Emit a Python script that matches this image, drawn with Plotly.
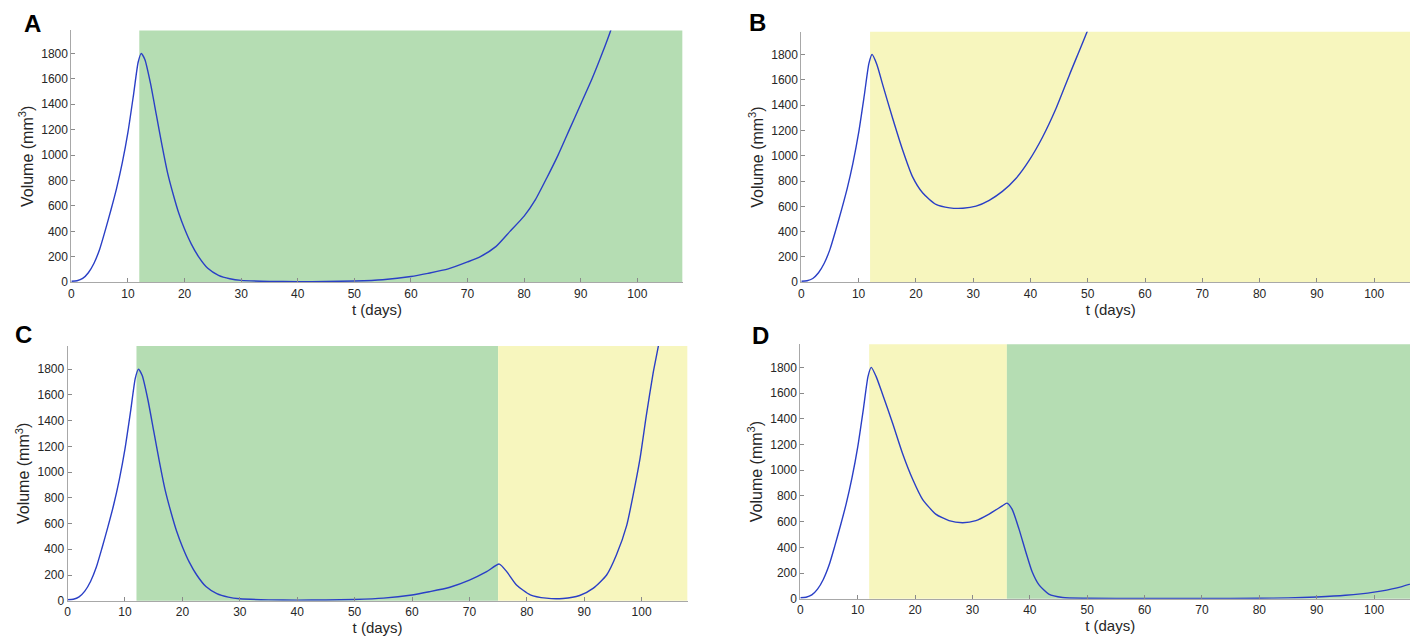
import plotly.graph_objects as go
from plotly.subplots import make_subplots

W, H = 1418, 640

# growth phase before any treatment (same in all four panels)
t_rise = [0, 1, 2, 3, 4, 5, 6, 7, 8, 9, 10, 11, 11.8, 12.35]
v_rise = [8, 12, 30, 75, 150, 260, 410, 570, 740, 940, 1180, 1480, 1730, 1800]

# A - treatment (green) from day 12
t_a = [13.0, 14.0, 15.0, 16.0, 17.0, 18.0, 19.0, 20.0, 21.2, 22.5, 24.1, 26, 28, 30, 35, 40, 45, 50,
       55, 60, 63, 66.6, 70, 72.2, 75, 77.5, 80, 82, 84, 86, 88, 90, 92, 93.8, 95.3, 96.5]
v_a = [1750, 1560, 1320, 1080, 860, 690, 540, 420, 300, 200, 110, 55, 28, 15, 7, 5, 6, 10,
       20, 45, 70, 105, 160, 200, 280, 400, 520, 650, 820, 1000, 1200, 1400, 1600, 1800, 1980, 2150]

# B - other treatment (yellow) from day 12
t_b = [13.2, 14.2, 15.9, 17.7, 19.4, 21.2, 23.5, 25.9, 28.2, 30.5, 32.8, 35.1, 37.5, 39.8, 42.1,
       44.4, 46.8, 49.9, 50.5]
v_b = [1720, 1562, 1302, 1043, 835, 705, 615, 588, 585, 602, 648, 718, 822, 965, 1146,
       1367, 1639, 1982, 2060]

# C - green until day 75, then yellow
t_c = [13.0, 14.0, 15.0, 16.0, 17.0, 18.0, 19.0, 20.0, 21.2, 22.5, 24.1, 26, 28, 30, 35, 40, 45, 50,
       55, 60, 63, 66.6, 70, 73, 75.2, 76.5, 78.2, 80.6, 83.4, 86.3, 89.2, 91.6, 93.9, 95.6, 97.4,
       98.5, 99.7, 100.8, 102, 103, 103.5]
v_c = [1750, 1560, 1320, 1080, 860, 690, 540, 420, 300, 200, 110, 55, 28, 15, 7, 5, 6, 10,
       20, 45, 70, 105, 160, 226, 285, 226, 123, 46, 20, 18, 41, 98, 200, 355, 586,
       817, 1100, 1434, 1769, 2000, 2150]

# D - yellow until day 36, then green
t_d = [13.2, 14.3, 16.1, 17.8, 19.6, 21.3, 23.6, 25.9, 28.3, 30.6, 32.9, 35.2, 36.0, 36.9, 38.1,
       39.3, 40.4, 41.6, 43.3, 45.7, 50, 60, 70, 80, 85, 90, 95, 100, 104, 108]
v_d = [1730, 1595, 1364, 1133, 928, 774, 659, 608, 592, 608, 659, 723, 744, 697, 544,
       364, 210, 108, 36, 10, 4, 2, 2, 4, 7, 14, 27, 52, 85, 138]

# shaded treatment phases per panel (start, end, colour)
GREEN = "#b5ddb3"
YELLOW = "#f7f6be"
phases_a = [(12, 108, GREEN)]
phases_b = [(12, 108, YELLOW)]
phases_c = [(12, 75, GREEN), (75, 108, YELLOW)]
phases_d = [(12, 36, YELLOW), (36, 108, GREEN)]

panel_letters = ["A", "B", "C", "D"]

fig = make_subplots(rows=2, cols=2)

panels = [
    (t_a, v_a, phases_a, 1, 1),
    (t_b, v_b, phases_b, 1, 2),
    (t_c, v_c, phases_c, 2, 1),
    (t_d, v_d, phases_d, 2, 2),
]

for t_post, v_post, phases, r, c in panels:
    fig.add_trace(go.Scatter(x=t_rise + t_post, y=v_rise + v_post, mode="lines",
                             line=dict(color="#2a3fc6", width=1.4, shape="spline", smoothing=0.6),
                             showlegend=False, hoverinfo="skip"),
                  row=r, col=c)
    # shapes go in after the trace, otherwise plotly skips the "empty" subplot
    for x0, x1, col in phases:
        fig.add_vrect(x0=x0, x1=x1, fillcolor=col, opacity=1, line_width=0,
                      layer="below", row=r, col=c, exclude_empty_subplots=False)

# panel placement in pixels (left, right, top, bottom)
boxes = [(60.5, 673, 22.7, 277.3), (792, 1412, 24, 277.3),
         (56.7, 678, 341.7, 599.3), (791, 1412, 340, 597.3)]
for i, (l, rgt, top, bot) in enumerate(boxes):
    sfx = "" if i == 0 else str(i + 1)
    fig.layout["xaxis" + sfx].domain = [l / W, rgt / W]
    fig.layout["yaxis" + sfx].domain = [1 - bot / H, 1 - top / H]

fig.update_xaxes(range=[0, 108], tickvals=list(range(0, 101, 10)), ticks="inside", ticklen=4,
                 tickcolor="#8a8a8a", showline=True, linecolor="#a8a8a8", linewidth=1,
                 showgrid=False, zeroline=False, tickfont=dict(size=12, color="#262626"),
                 title=dict(text="t (days)", font=dict(size=15, color="#262626"), standoff=0))
fig.update_yaxes(range=[0, 1980], tickvals=list(range(0, 1801, 200)), ticks="inside", ticklen=4,
                 tickcolor="#8a8a8a", showline=True, linecolor="#a8a8a8", linewidth=1,
                 showgrid=False, zeroline=False, tickfont=dict(size=12, color="#262626"),
                 title=dict(text="Volume (mm<sup>3</sup>)", font=dict(size=16, color="#262626"),
                            standoff=3))

letter_pos = [(22, 16), (748, 15), (13, 330), (751, 331)]
for letter, (px, py) in zip(panel_letters, letter_pos):
    fig.add_annotation(text="<b>" + letter + "</b>", x=px / W, y=1 - py / H, xref="paper",
                       yref="paper", showarrow=False, xanchor="center", yanchor="middle",
                       font=dict(size=24, color="black", family="Liberation Sans, Arial"))

fig.update_layout(width=W, height=H, margin=dict(l=0, r=0, t=0, b=0),
                  plot_bgcolor="white", paper_bgcolor="white",
                  font=dict(family="Liberation Sans, Arial, sans-serif"))

fig.write_html("out.html")
